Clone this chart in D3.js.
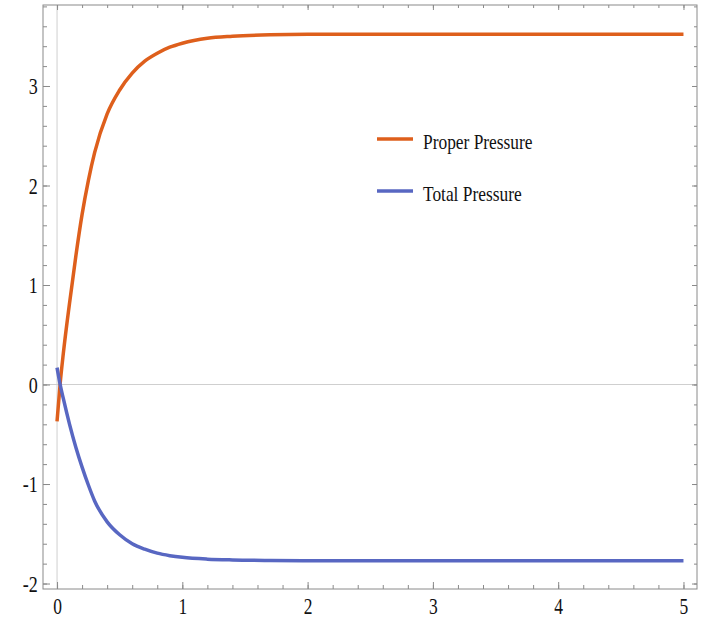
<!DOCTYPE html>
<html><head><meta charset="utf-8">
<script src="https://cdn.jsdelivr.net/npm/d3@7"></script>
<style>
body{margin:0;background:#fff}
text{font-family:"Liberation Serif","Times New Roman",serif;fill:#111}
</style>
</head><body>
<svg id="c" width="705" height="620"></svg>
<script>
// ---- data ----
const xValues        = [0, 0.025, 0.05, 0.1, 0.15, 0.2, 0.25, 0.3, 0.4, 0.5, 0.6, 0.7, 0.8, 0.9, 1.0, 1.2, 1.4, 1.7, 2, 3, 4, 5];
const properPressure = [-0.37, 0.01, 0.31, 0.82, 1.29, 1.71, 2.05, 2.33, 2.72, 2.96, 3.13, 3.25, 3.33, 3.39, 3.43, 3.48, 3.50, 3.515, 3.52, 3.52, 3.52, 3.52];
const totalPressure  = [0.17, 0.00, -0.14, -0.40, -0.63, -0.83, -1.01, -1.17, -1.38, -1.51, -1.60, -1.655, -1.695, -1.72, -1.737, -1.755, -1.763, -1.768, -1.77, -1.77, -1.77, -1.77];
const seriesNames    = ["Proper Pressure", "Total Pressure"];
const xTicks         = [0, 1, 2, 3, 4, 5];
const yTicks         = [-2, -1, 0, 1, 2, 3];
const xMinorTicks    = d3.range(0, 5.01, 0.2);
const yMinorTicks    = d3.range(-2, 3.81, 0.2);

const colors = ["#DE5F1C", "#5867C2"];
const svg = d3.select("#c");
const L = 43, R = 697, T = 5, B = 589;

const x = d3.scaleLinear().domain([-0.112, 5.108]).range([L, R]);
const y = d3.scaleLinear().domain([-2.055, 3.814]).range([B, T]);

const frameColor = "#8a8a8a";

// zero lines (axes inside frame)
svg.append("line").attr("x1", L).attr("x2", R).attr("y1", y(0)).attr("y2", y(0))
  .attr("stroke", "#cfcfcf").attr("stroke-width", 1);
svg.append("line").attr("x1", x(0)).attr("x2", x(0)).attr("y1", T).attr("y2", B)
  .attr("stroke", "#cfcfcf").attr("stroke-width", 1);

function styleAxis(g){
  g.select(".domain").remove();
  g.selectAll(".tick line").attr("stroke", frameColor);
}

// minor ticks
svg.append("g").attr("transform", `translate(0,${B})`)
  .call(d3.axisBottom(x).tickValues(xMinorTicks).tickSize(-4).tickFormat(""))
  .call(styleAxis);
svg.append("g").attr("transform", `translate(0,${T})`)
  .call(d3.axisTop(x).tickValues(xMinorTicks).tickSize(-3).tickFormat(""))
  .call(styleAxis);
svg.append("g").attr("transform", `translate(${L},0)`)
  .call(d3.axisLeft(y).tickValues(yMinorTicks).tickSize(-4).tickFormat(""))
  .call(styleAxis);
svg.append("g").attr("transform", `translate(${R},0)`)
  .call(d3.axisRight(y).tickValues(yMinorTicks).tickSize(-3).tickFormat(""))
  .call(styleAxis);

// major ticks
const fmt = d => (d < 0 ? "-" : "") + Math.abs(d);
const gx = svg.append("g").attr("transform", `translate(0,${B})`)
  .call(d3.axisBottom(x).tickValues(xTicks).tickSize(-7).tickPadding(9).tickFormat(fmt))
  .call(styleAxis);
gx.selectAll("text").attr("font-size", 23).attr("font-family", "Liberation Serif")
  .attr("transform", "scale(0.76,1)").attr("fill", "#111");

const gy = svg.append("g").attr("transform", `translate(${L},0)`)
  .call(d3.axisLeft(y).tickValues(yTicks).tickSize(-7).tickPadding(7).tickFormat(fmt))
  .call(styleAxis);
gy.selectAll("text").attr("font-size", 24).attr("font-family", "Liberation Serif")
  .attr("transform", "scale(0.75,1)").attr("x", -7).attr("fill", "#111");

svg.append("g").attr("transform", `translate(0,${T})`)
  .call(d3.axisTop(x).tickValues(xTicks).tickSize(-5).tickFormat(""))
  .call(styleAxis);
svg.append("g").attr("transform", `translate(${R},0)`)
  .call(d3.axisRight(y).tickValues(yTicks).tickSize(-5).tickFormat(""))
  .call(styleAxis);

// frame
svg.append("rect").attr("x", L).attr("y", T).attr("width", R - L).attr("height", B - T)
  .attr("fill", "none").attr("stroke", frameColor).attr("stroke-width", 1);

// curves
const series = [properPressure, totalPressure];
const line = d3.line().x((d, i) => x(xValues[i])).y(d => y(d)).curve(d3.curveMonotoneX);
series.forEach((s, k) => {
  svg.append("path").datum(s).attr("d", line)
    .attr("fill", "none").attr("stroke", colors[k]).attr("stroke-width", 3.5)
    .attr("stroke-linejoin", "round");
});

// legend
const legY = [139, 191];
seriesNames.forEach((name, k) => {
  svg.append("line").attr("x1", 377).attr("x2", 413).attr("y1", legY[k]).attr("y2", legY[k])
    .attr("stroke", colors[k]).attr("stroke-width", 3.5);
  svg.append("text").attr("transform", `translate(423,${legY[k] + 10}) scale(0.79,1)`)
    .attr("font-size", 22).text(name);
});
</script>
</body></html>
